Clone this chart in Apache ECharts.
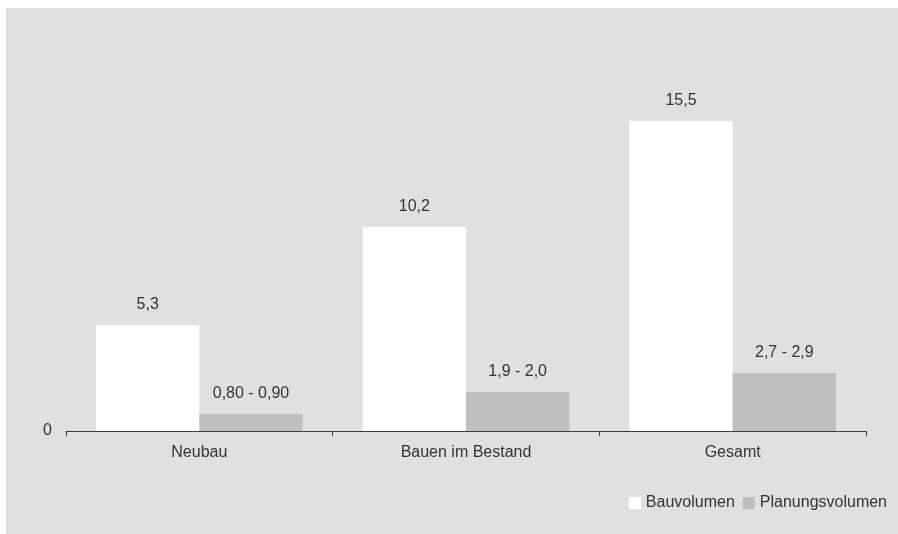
<!DOCTYPE html>
<html>
<head>
<meta charset="utf-8">
<script src="https://cdn.jsdelivr.net/npm/echarts@6/dist/echarts.min.js"></script>
<style>
html,body{margin:0;padding:0;background:#ffffff;}
#chart{width:898px;height:534px;}
</style>
</head>
<body>
<div id="chart"></div>
<script>
var categories = ['Neubau', 'Bauen im Bestand', 'Gesamt'];
var bauvolumen = [5.3, 10.2, 15.5];
var planungsvolumen = [0.85, 1.95, 2.9];
var planungsLabels = ['0,80 - 0,90', '1,9 - 2,0', '2,7 - 2,9'];
var seriesNames = ['Bauvolumen', 'Planungsvolumen'];

var FONT = '"Liberation Sans", Arial, sans-serif';
var TEXT = '#333333';

var chart = echarts.init(document.getElementById('chart'), null, {renderer: 'canvas'});
chart.setOption({
  backgroundColor: '#ffffff',
  animation: false,
  textStyle: {fontFamily: FONT, color: TEXT},
  graphic: [{
    type: 'rect', left: 6, top: 8, z: -10, silent: true,
    shape: {width: 892, height: 526},
    style: {fill: '#e0e0e0'}
  }],
  grid: {left: 66, right: 32, top: 31, bottom: 103, containLabel: false},
  legend: {
    right: 6, top: 490,
    itemWidth: 12, itemHeight: 12, itemGap: 8,
    icon: 'rect',
    textStyle: {fontFamily: FONT, fontSize: 16, color: TEXT},
    data: seriesNames
  },
  xAxis: {
    type: 'category',
    data: categories,
    axisLine: {lineStyle: {color: '#404040', width: 1}},
    axisTick: {show: true, length: 5, lineStyle: {color: '#404040'}},
    axisLabel: {fontFamily: FONT, fontSize: 16, color: TEXT, margin: 14}
  },
  yAxis: {
    type: 'value', min: 0, max: 20, interval: 20,
    axisLine: {show: false},
    axisTick: {show: false},
    splitLine: {show: false},
    axisLabel: {fontFamily: FONT, fontSize: 16, color: TEXT, margin: 14, showMaxLabel: false}
  },
  series: [{
    name: seriesNames[0],
    type: 'bar',
    data: bauvolumen,
    barGap: '0%',
    barCategoryGap: '22.5%',
    itemStyle: {color: '#ffffff'},
    label: {
      show: true, position: 'top', distance: 12,
      fontFamily: FONT, fontSize: 16, color: TEXT,
      formatter: function (p) { return String(p.value).replace('.', ','); }
    }
  }, {
    name: seriesNames[1],
    type: 'bar',
    data: planungsvolumen,
    barGap: '0%',
    barCategoryGap: '22.5%',
    itemStyle: {color: '#bfbfbf'},
    label: {
      show: true, position: 'top', distance: 12,
      fontFamily: FONT, fontSize: 16, color: TEXT,
      formatter: function (p) { return planungsLabels[p.dataIndex]; }
    }
  }]
});
</script>
</body>
</html>
